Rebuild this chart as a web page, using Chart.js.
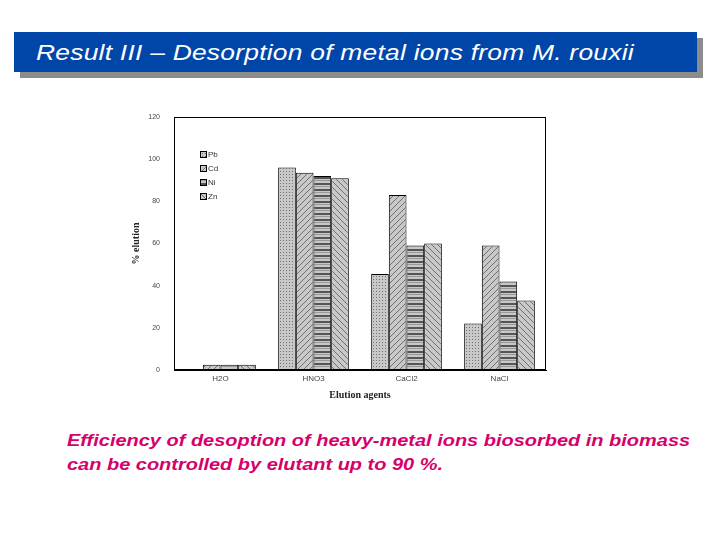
<!DOCTYPE html>
<html>
<head>
<meta charset="utf-8">
<script src="https://cdn.jsdelivr.net/npm/chart.js@4"></script>
<style>
  body { margin: 0; width: 720px; height: 540px; background: #fff; position: relative; overflow: hidden; font-family: "Liberation Sans", Arial, sans-serif; }
  .shadow { position: absolute; left: 20px; top: 38px; width: 683px; height: 40px; background: #8c8c8c; }
  .title { position: absolute; left: 14px; top: 32px; width: 683px; height: 40px; background: #0046a8; color: #fff; font-style: italic; font-size: 22px; line-height: 42px; box-sizing: border-box; padding-left: 22px; letter-spacing: 0.2px; transform-origin: left; }
  .title span { display: inline-block; transform: scaleX(1.2); transform-origin: left; }
  #wrap { position: absolute; left: 130px; top: 105px; width: 420px; height: 300px; }
  .note { position: absolute; left: 67px; top: 428px; color: #d6006b; font-weight: bold; font-style: italic; font-size: 16.5px; line-height: 24px; }
  .note span { display: inline-block; transform: scaleX(1.21); transform-origin: left; white-space: nowrap; }
</style>
</head>
<body>
<div class="shadow"></div>
<div class="title"><span>Result III &#8211; Desorption of metal ions from M. rouxii</span></div>
<div id="wrap"><canvas id="c" width="420" height="300"></canvas></div>
<div class="note"><span>Efficiency of desoption of heavy-metal ions biosorbed in biomass</span><br><span>can be controlled by elutant up to 90 %.</span></div>
<script>
// --- data ---
const agents = ["H2O", "HNO3", "CaCl2", "NaCl"];
const metals = ["Pb", "Cd", "Ni", "Zn"];
const pb = [0.5, 96, 45.5, 22];
const cd = [2.5, 93.5, 83, 59];
const ni = [2.5, 92, 59, 42];
const zn = [2.5, 91, 60, 33];
const yTicks = [0, 20, 40, 60, 80, 100, 120];

// small gray hatch patterns
function makePattern(kind) {
  const p = document.createElement("canvas");
  p.width = 6; p.height = 6;
  const g = p.getContext("2d");
  g.fillStyle = "#c8c8c8";
  g.fillRect(0, 0, 6, 6);
  g.strokeStyle = "#707070";
  g.fillStyle = "#707070";
  g.lineWidth = 1;
  if (kind === "dots") {
    g.fillRect(0, 0, 1, 1); g.fillRect(3, 3, 1, 1);
    g.fillRect(3, 0, 1, 1); g.fillRect(0, 3, 1, 1);
  } else if (kind === "diag") {
    g.beginPath(); g.moveTo(0, 6); g.lineTo(6, 0); g.moveTo(-3, 3); g.lineTo(3, -3); g.moveTo(3, 9); g.lineTo(9, 3); g.stroke();
  } else if (kind === "horiz") {
    g.fillStyle = "#555"; g.fillRect(0, 0, 6, 2);
    g.fillStyle = "#999"; g.fillRect(0, 3, 6, 1);
  } else {
    g.beginPath(); g.moveTo(0, 0); g.lineTo(6, 6); g.moveTo(-3, 3); g.lineTo(3, 9); g.moveTo(3, -3); g.lineTo(9, 3); g.stroke();
  }
  return g.createPattern(p, "repeat");
}
const fills = [makePattern("dots"), makePattern("diag"), makePattern("horiz"), makePattern("rdiag")];
const series = [pb, cd, ni, zn];

// legend drawn inside the plot, top-left
const innerLegend = {
  id: "innerLegend",
  afterDraw(chart) {
    const ctx = chart.ctx;
    const x = chart.chartArea.left + 26, y0 = chart.chartArea.top + 37;
    ctx.save();
    ctx.font = "8px 'Liberation Sans', Arial";
    ctx.textBaseline = "middle";
    metals.forEach((m, i) => {
      const y = y0 + i * 14;
      ctx.fillStyle = fills[i];
      ctx.fillRect(x, y - 3, 7, 7);
      ctx.strokeStyle = "#000";
      ctx.lineWidth = 1;
      ctx.strokeRect(x + 0.5, y - 2.5, 6, 6);
      ctx.fillStyle = "#333";
      ctx.fillText(m, x + 8, y + 1);
    });
    ctx.restore();
  }
};

new Chart(document.getElementById("c"), {
  type: "bar",
  data: {
    labels: agents,
    datasets: metals.map((m, i) => ({
      label: m,
      data: series[i],
      backgroundColor: fills[i],
      borderColor: "#000",
      borderWidth: 1,
      borderSkipped: "bottom",
      barPercentage: 1,
      categoryPercentage: 0.76
    }))
  },
  options: {
    responsive: false,
    animation: false,
    devicePixelRatio: 1,
    layout: { padding: { top: 12, right: 4 } },
    plugins: { legend: { display: false }, tooltip: { enabled: false } },
    scales: {
      x: {
        grid: { display: false, drawTicks: false },
        border: { color: "#000", width: 1 },
        ticks: { color: "#444", font: { size: 8, family: "'Liberation Sans', Arial" }, padding: 4 },
        title: { display: true, text: "Elution agents", color: "#222", font: { size: 10, weight: "bold", family: "'Liberation Serif', serif" }, padding: { top: 0 } },
        afterFit(s) { s.height = 35; }
      },
      y: {
        min: 0, max: 120,
        afterBuildTicks(s) { s.ticks = yTicks.map(v => ({ value: v })); },
        grid: { display: false },
        border: { color: "#000", width: 1 },
        ticks: { color: "#444", font: { size: 7, family: "'Liberation Sans', Arial" }, padding: 6 },
        title: { display: true, text: "% elution", color: "#222", font: { size: 10, weight: "bold", family: "'Liberation Serif', serif" }, padding: 0 },
        afterFit(s) { s.width = 44; }
      }
    }
  },
  plugins: [innerLegend, {
    id: "frame",
    afterDraw(chart) {
      const a = chart.chartArea, ctx = chart.ctx;
      ctx.save();
      ctx.strokeStyle = "#000"; ctx.lineWidth = 1;
      ctx.strokeRect(a.left + 0.5, a.top + 0.5, a.width - 1, a.height - 1);
      ctx.restore();
    }
  }]
});
</script>
</body>
</html>
